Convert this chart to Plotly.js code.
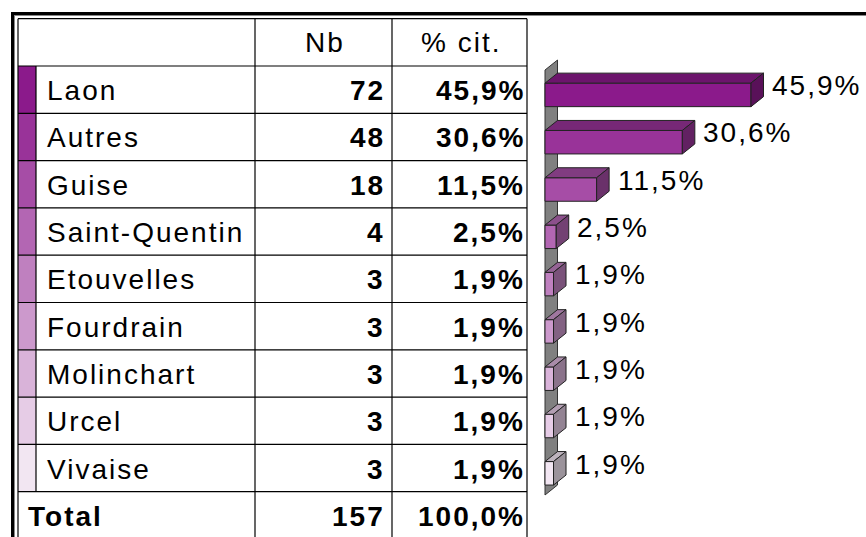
<!DOCTYPE html>
<html><head><meta charset="utf-8">
<script src="https://cdn.plot.ly/plotly-3.0.1.min.js"></script>
<style>html,body{margin:0;padding:0;background:#fff}#chart{width:866px;height:537px}</style>
</head><body><div id="chart"></div>
<script>
// ---- data ----
const categories = ['Laon','Autres','Guise','Saint-Quentin','Etouvelles','Fourdrain','Molinchart','Urcel','Vivaise'];
const counts = [72,48,18,4,3,3,3,3,3];
const percents = [45.9,30.6,11.5,2.5,1.9,1.9,1.9,1.9,1.9];
const totalLabel = 'Total';
const totalCount = 157;
const totalPercent = 100.0;
const headerLabels = ['Nb','% cit.'];
const colors = ['#8B1A8B','#993399','#A64DA6','#B366B3','#BF80BF','#CC99CC','#D9B3D9','#E6CCE6','#F2E6F2'];

// ---- layout geometry ----
const W = 866, H = 537;
const xRange = [-121.43, 71.52];
const yRange = [9.4577, -1.8953];
const pxX = W / (xRange[1] - xRange[0]);
const pxY = H / (yRange[0] - yRange[1]);
const px = p => p / W;          // pixel -> paper x
const py = p => 1 - p / H;      // pixel -> paper y
const fmt = v => v.toFixed(1).replace('.', ',') + '%';
const sp = t => '<span style="letter-spacing:2px">' + t + '</span>';
const FONT = {family: 'Liberation Sans, Arial, sans-serif', size: 28, color: '#000'};

function shade(hex, f) {
  const n = parseInt(hex.slice(1), 16);
  const r = Math.round(((n >> 16) & 255) * f), g = Math.round(((n >> 8) & 255) * f), b = Math.round((n & 255) * f);
  return 'rgb(' + r + ',' + g + ',' + b + ')';
}

const rows = categories.map((_, i) => i);
const totalRow = categories.length;
const barWidth = 0.497, barOffset = -0.1375;
const dxD = 12.5 / pxX, dyD = 10 / pxY;

const shapes = [];
const LINE = {color: '#000', width: 1.2};
// colour swatches
rows.forEach(i => shapes.push({type: 'rect', xref: 'paper', yref: 'y', x0: px(18), x1: px(36),
  y0: i - 0.5, y1: i + 0.5, fillcolor: colors[i], line: {width: 0}, layer: 'below'}));
// horizontal rules
for (let k = -1; k <= totalRow; k++) {
  shapes.push({type: 'line', xref: 'paper', yref: 'y', x0: px(18), x1: px(527), y0: k - 0.5, y1: k - 0.5, line: LINE});
}
// vertical rules
[18, 255, 392, 527].forEach(x => shapes.push({type: 'line', xref: 'paper', yref: 'y', x0: px(x), x1: px(x),
  y0: -1.5, y1: yRange[0], line: LINE}));
shapes.push({type: 'line', xref: 'paper', yref: 'y', x0: px(36), x1: px(36), y0: -0.5, y1: totalRow - 0.5, line: LINE});
// outer frame
shapes.push({type: 'line', xref: 'paper', yref: 'paper', x0: px(11), x1: 1, y0: py(13.5), y1: py(13.5), line: {color: '#000', width: 3}});
shapes.push({type: 'line', xref: 'paper', yref: 'paper', x0: px(13), x1: 1, y0: py(15.5), y1: py(15.5), line: {color: '#888', width: 1}});
shapes.push({type: 'line', xref: 'paper', yref: 'paper', x0: px(12.5), x1: px(12.5), y0: py(12), y1: 0, line: {color: '#000', width: 3}});
shapes.push({type: 'line', xref: 'paper', yref: 'paper', x0: px(14.5), x1: px(14.5), y0: py(15), y1: 0, line: {color: '#888', width: 1}});
// 3D wall behind the bars
const wTop = -0.415, wBot = 8.57;
shapes.push({type: 'path', xref: 'x', yref: 'y', layer: 'below', fillcolor: '#808080', line: {color: '#333', width: 1},
  path: `M0,${wTop} L${dxD},${wTop - dyD} L${dxD},${wBot - dyD} L0,${wBot} Z`});
// 3D faces of bars
rows.forEach(i => {
  const v = percents[i];
  const yt = i + barOffset, yb = yt + barWidth;
  shapes.push({type: 'path', xref: 'x', yref: 'y', fillcolor: shade(colors[i], 0.78), line: {color: '#222', width: 1},
    path: `M0,${yt} L${v},${yt} L${v + dxD},${yt - dyD} L${dxD},${yt - dyD} Z`});
  shapes.push({type: 'path', xref: 'x', yref: 'y', fillcolor: shade(colors[i], 0.64), line: {color: '#222', width: 1},
    path: `M${v},${yt} L${v + dxD},${yt - dyD} L${v + dxD},${yb - dyD} L${v},${yb} Z`});
});

const annotations = [];
const ann = (o) => annotations.push(Object.assign({showarrow: false, borderpad: 0, borderwidth: 0, font: FONT,
  yref: 'y', yanchor: 'middle'}, o));
ann({xref: 'paper', x: px(324.5), y: -1, xanchor: 'center', text: sp(headerLabels[0])});
ann({xref: 'paper', x: px(461), y: -1, xanchor: 'center', text: sp(headerLabels[1])});
rows.forEach(i => {
  ann({xref: 'paper', x: px(47), y: i, xanchor: 'left', yshift: -1, text: sp(categories[i])});
  ann({xref: 'paper', x: px(385), y: i, xanchor: 'right', yshift: -1, text: '<b>' + sp(String(counts[i])) + '</b>'});
  ann({xref: 'paper', x: px(525), y: i, xanchor: 'right', yshift: -1, text: '<b>' + sp(fmt(percents[i])) + '</b>'});
  ann({xref: 'x', x: percents[i], y: i, xanchor: 'left', xshift: 21, yshift: 4, text: sp(fmt(percents[i]))});
});
ann({xref: 'paper', x: px(28), y: totalRow, xanchor: 'left', yshift: -1, text: '<b>' + sp(totalLabel) + '</b>'});
ann({xref: 'paper', x: px(385), y: totalRow, xanchor: 'right', yshift: -1, text: '<b>' + sp(String(totalCount)) + '</b>'});
ann({xref: 'paper', x: px(525), y: totalRow, xanchor: 'right', yshift: -1, text: '<b>' + sp(fmt(totalPercent)) + '</b>'});

const trace = {type: 'bar', orientation: 'h', x: percents, y: rows, width: barWidth, offset: barOffset,
  marker: {color: colors, line: {color: '#222', width: 1}}, hoverinfo: 'skip'};

const layout = {
  width: W, height: H, margin: {l: 0, r: 0, t: 0, b: 0, pad: 0},
  paper_bgcolor: '#fff', plot_bgcolor: '#fff', showlegend: false,
  xaxis: {range: xRange, visible: false, fixedrange: true},
  yaxis: {range: yRange, visible: false, fixedrange: true},
  shapes: shapes, annotations: annotations
};
Plotly.newPlot('chart', [trace], layout, {displayModeBar: false, staticPlot: true});
</script></body></html>
